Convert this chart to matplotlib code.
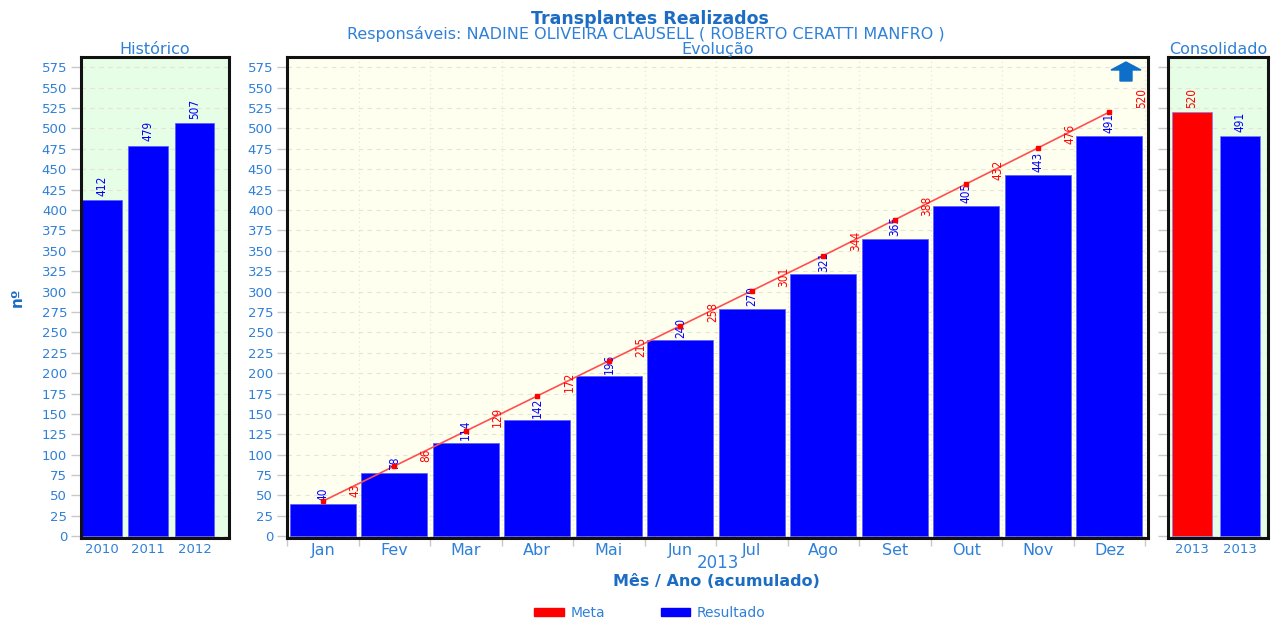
import matplotlib
matplotlib.use('Agg')
import matplotlib.pyplot as plt
from matplotlib.patches import Patch, Polygon

# Data
years = ['2010', '2011', '2012']
historico = [412, 479, 507]
months = ['Jan', 'Fev', 'Mar', 'Abr', 'Mai', 'Jun', 'Jul', 'Ago', 'Set', 'Out', 'Nov', 'Dez']
meta = [43, 86, 129, 172, 215, 258, 301, 344, 388, 432, 476, 520]
resultado = [40, 78, 114, 142, 196, 240, 279, 321, 365, 405, 443, 491]
consol_labels = ['2013', '2013']
consol_values = [520, 491]
yticks = list(range(0, 600, 25))

W, H = 1276, 619
BLUE = '#2f80d8'
DARK = '#1c6cc4'


def make_axes(x0, x1, bg):
    ax = fig.add_axes([x0 / W, 1 - 537.5 / H, (x1 - x0) / W, 480.5 / H], facecolor=bg)
    ax.set_ylim(-1.5, 587.5)
    ax.set_yticks(yticks)
    ax.tick_params(axis='y', length=7, width=1, color='#c8c8c8', labelcolor=BLUE, labelsize=9.5, pad=3)
    ax.tick_params(axis='x', length=0, labelcolor=BLUE, labelsize=9.5, pad=4)
    ax.grid(axis='y', color='#e4e4d8', linestyle=(0, (4, 4)), linewidth=0.8)
    ax.set_axisbelow(True)
    for s in ax.spines.values():
        s.set_linewidth(2.2)
        s.set_color('#111111')
    return ax


def value_labels(ax, xs, vals, color, dx=0, dy=3):
    for x, v in zip(xs, vals):
        ax.annotate(str(v), (x, v), xytext=(dx, dy), textcoords='offset points', rotation=90,
                    ha='center', va='bottom', color=color, fontsize=8.5, stretch='condensed',
                    clip_on=False)


fig = plt.figure(figsize=(W / 100, H / 100), dpi=100)

# Historico
ax1 = make_axes(81, 229, '#e6fde6')
xs1 = list(range(len(years)))
ax1.bar(xs1, historico, width=0.85, color='#0000ff', edgecolor='#5a5aff', linewidth=0.5)
ax1.set_xlim(-0.45, 2.745)
ax1.set_xticks(xs1, years)
value_labels(ax1, xs1, historico, '#0000ff', dy=3)
ax1.set_title('Histórico', color=BLUE, fontsize=11.5, pad=0)
ax1.set_ylabel('nº', color=DARK, fontsize=11, fontweight='bold', labelpad=12)

# Evolucao
ax2 = make_axes(287, 1148, '#fffff0')
xs2 = list(range(len(months)))
ax2.bar(xs2, resultado, width=0.925, color='#0000ff', edgecolor='#5a5aff', linewidth=0.5, zorder=2)
ax2.plot(xs2, meta, color='#ff5050', linewidth=1.2, zorder=3)
ax2.plot(xs2, meta, linestyle='none', marker='s', markersize=3.2, color='#ff0000', zorder=4)
ax2.set_xlim(-0.48, 11.54)
ax2.set_xticks(xs2, months)
ax2.tick_params(axis='x', labelsize=11.5, pad=4)
ax2.set_xticks([i + 0.5 for i in range(-1, 12)], minor=True)
ax2.tick_params(axis='x', which='minor', length=6, width=1, color='#c8c8c8')
ax2.grid(axis='x', which='minor', color='#e4e4d8', linestyle=(0, (1, 3)), linewidth=0.8)
value_labels(ax2, xs2, resultado, '#0000ff', dy=2)
value_labels(ax2, xs2, meta, '#ff0000', dx=23, dy=3)
ax2.set_title('Evolução', color=BLUE, fontsize=11.5, pad=0)
ax2.set_xlabel('2013', color=BLUE, fontsize=12, labelpad=-3)
arrow = [(1111, 70), (1126, 62), (1141, 70), (1132, 70), (1132, 81), (1120, 81), (1120, 70)]
ax2.add_patch(Polygon([((x - 287) / 861, (537.5 - y) / 480.5) for x, y in arrow],
                      transform=ax2.transAxes, color='#0d6fc8', zorder=5))

# Consolidado
ax3 = make_axes(1168, 1268, '#e6fde6')
xs3 = [0, 1]
ax3.bar(xs3, consol_values, width=0.83, color=['#ff0000', '#0000ff'], edgecolor='#8080ff', linewidth=0.5)
ax3.set_xlim(-0.49, 1.59)
ax3.set_xticks(xs3, consol_labels)
ax3.tick_params(axis='y', labelleft=False)
value_labels(ax3, xs3[:1], consol_values[:1], '#ff0000', dy=3)
value_labels(ax3, xs3[1:], consol_values[1:], '#0000ff', dy=3)
ax3.set_title('Consolidado', color=BLUE, fontsize=11.5, pad=0)

# Titles and legend
fig.text(650 / W, 1 - 18.5 / H, 'Transplantes Realizados', color=DARK, fontsize=12.5, fontweight='bold',
         ha='center', va='center')
fig.text(646 / W, 1 - 33.5 / H, 'Responsáveis: NADINE OLIVEIRA CLAUSELL ( ROBERTO CERATTI MANFRO )',
         color=BLUE, fontsize=11.5, ha='center', va='center')
fig.text(716 / W, 1 - 582 / H, 'Mês / Ano (acumulado)', color=DARK, fontsize=11.5, fontweight='bold',
         ha='center', va='center')
fig.legend(handles=[Patch(color='#ff0000', label='Meta'), Patch(color='#0000ff', label='Resultado')],
           ncol=2, frameon=False, loc='center', bbox_to_anchor=(650 / W, 1 - 613 / H), fontsize=10,
           labelcolor=BLUE, handlelength=2.1, handleheight=0.5, columnspacing=4.0, handletextpad=0.5)

fig.savefig('out.png', dpi=100)
